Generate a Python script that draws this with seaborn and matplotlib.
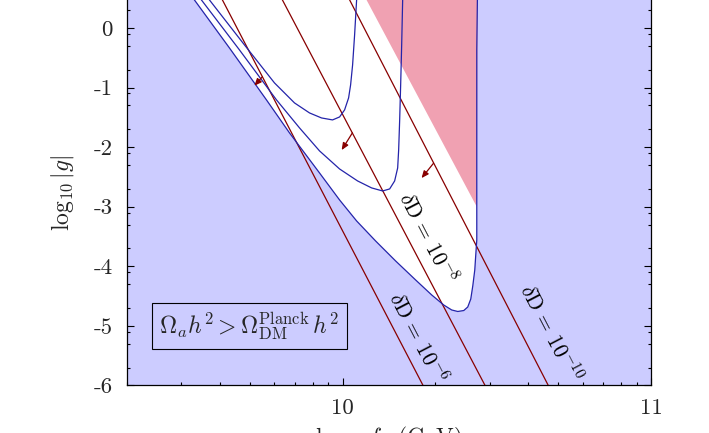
import numpy as np
import matplotlib
matplotlib.use('Agg')
import matplotlib.pyplot as plt
import seaborn as sns
from matplotlib.ticker import FixedLocator, FixedFormatter, NullFormatter, LogLocator

# ---- data (x given as log10 of the scale in GeV, y = log10|g|) ----
# outer boundary of the allowed (white) region
curveA_lx = [9.4481, 9.5195, 9.6331, 9.7532, 9.8279, 9.9253, 9.9903, 10.0455, 10.1071, 10.1721,
             10.2370, 10.2890, 10.3279, 10.3539, 10.3734, 10.3929, 10.4058, 10.4156, 10.4221,
             10.4286, 10.4318, 10.4351, 10.4351, 10.4351, 10.4383]
curveA_y = [0.973, 0.470, -0.336, -1.208, -1.762, -2.434, -2.887, -3.239, -3.575, -3.911,
            -4.230, -4.481, -4.649, -4.733, -4.758, -4.742, -4.683, -4.549, -4.330,
            -4.062, -3.810, -3.558, -2.048, -0.369, 0.973]
# middle contour
curveB_lx = [9.4708, 9.5422, 9.6656, 9.7857, 9.8604, 9.9253, 9.9903, 10.0487, 10.0942, 10.1299,
             10.1526, 10.1688, 10.1786, 10.1818, 10.1851, 10.1883, 10.1916, 10.1948, 10.1981]
curveB_y = [0.973, 0.470, -0.369, -1.208, -1.678, -2.064, -2.367, -2.568, -2.685, -2.736,
            -2.702, -2.568, -2.350, -2.048, -1.544, -0.957, -0.285, 0.470, 0.973]
# inner contour
curveC_lx = [9.4968, 9.5682, 9.6818, 9.7792, 9.8442, 9.8929, 9.9318, 9.9675, 9.9903, 10.0065,
             10.0195, 10.0260, 10.0325, 10.0390, 10.0455, 10.0487]
curveC_y = [0.973, 0.470, -0.285, -0.923, -1.259, -1.427, -1.511, -1.544, -1.494, -1.376,
            -1.175, -0.957, -0.621, -0.117, 0.470, 0.973]
# pink region (triangle)
pink_lx = [10.023, 10.435, 10.439]
pink_y = [1.0, -3.0, 1.0]
# deuterium lines  delta D = 1e-6, 1e-8, 1e-10 : log10 x at y=1 and y=-6
dD_labels = [r'$\delta\mathrm{D}\,=\,10^{-6}$', r'$\delta\mathrm{D}\,=\,10^{-8}$', r'$\delta\mathrm{D}\,=\,10^{-10}$']
dD_lx_top = [9.557, 9.751, 9.970]
dD_lx_bot = [10.261, 10.462, 10.667]
dD_y_ends = [1.0, -6.0]
# arrows on the lines (start, end)
arrow_lx0 = [9.740, 10.032, 10.295]
arrow_y0 = [-0.82, -1.76, -2.27]
arrow_lx1 = [9.714, 9.997, 10.256]
arrow_y1 = [-0.97, -2.05, -2.52]
# label positions
dD_text_lx = [10.244, 10.276, 10.675]
dD_text_y = [-5.20, -3.52, -5.12]

xticks_lx = [10, 11]
xtick_labels = ['10', '11']
yticks = [-6, -5, -4, -3, -2, -1, 0]
ytick_labels = ['-6', '-5', '-4', '-3', '-2', '-1', '0']

BLUE_FILL = '#CCCCFF'
PINK = '#F0A1B2'
LINE_BLUE = '#2424AA'
LINE_RED = '#880000'

sns.set_theme(style='ticks')
plt.rcParams['font.family'] = ['cmr10', 'DejaVu Serif']
plt.rcParams['mathtext.fontset'] = 'cm'
plt.rcParams['axes.formatter.use_mathtext'] = True
plt.rcParams['axes.unicode_minus'] = False

fig = plt.figure(figsize=(7.09, 4.33), dpi=100)
ax = fig.add_axes([0.17913, 0.1097, 0.73907, 0.96351])
ax.set_xscale('log')
ax.set_xlim(2e9, 1e11)
ax.set_ylim(-6, 1)
ax.set_facecolor(BLUE_FILL)

def X(lx):
    return 10 ** np.asarray(lx, dtype=float)

# white allowed region
ax.fill(X(curveA_lx), curveA_y, color='white', zorder=1, lw=0)
# pink region
ax.fill(X(pink_lx), pink_y, color=PINK, zorder=1.5, lw=0)

# red deuterium lines
for i in range(3):
    sns.lineplot(x=X([dD_lx_top[i], dD_lx_bot[i]]), y=dD_y_ends, ax=ax, color=LINE_RED,
                 lw=0.9, sort=False, estimator=None, zorder=3)
    ax.annotate('', xy=(X(arrow_lx1[i]), arrow_y1[i]), xytext=(X(arrow_lx0[i]), arrow_y0[i]),
                arrowprops=dict(arrowstyle='-|>,head_length=0.35,head_width=0.15', color=LINE_RED,
                                lw=0.9, shrinkA=0, shrinkB=0), zorder=4)
    ax.text(X(dD_text_lx[i]), dD_text_y[i], dD_labels[i], rotation=-62.5, rotation_mode='anchor',
            ha='center', va='center', fontsize=15.5, color='black', zorder=5)

# blue contours
for lx, yy in [(curveA_lx, curveA_y), (curveB_lx, curveB_y), (curveC_lx, curveC_y)]:
    sns.lineplot(x=X(lx), y=yy, ax=ax, color=LINE_BLUE, lw=0.9, sort=False, estimator=None, zorder=3)

# box label
ax.text(X(9.698), -5.0, r'$\Omega_a h^2 > \Omega_{\mathrm{DM}}^{\mathrm{Planck}}\, h^2$', fontsize=17,
        ha='center', va='center', zorder=6,
        bbox=dict(boxstyle='square,pad=0.3', fc='none', ec='black', lw=0.8))

# ticks
ax.xaxis.set_major_locator(FixedLocator(X(xticks_lx)))
ax.xaxis.set_major_formatter(FixedFormatter(xtick_labels))
ax.xaxis.set_minor_locator(LogLocator(base=10, subs=np.arange(2, 10), numticks=20))
ax.xaxis.set_minor_formatter(NullFormatter())
ax.yaxis.set_major_locator(FixedLocator(yticks))
ax.yaxis.set_major_formatter(FixedFormatter(ytick_labels))
yminor = [k - d for k in range(-5, 2) for d in (0.1, 0.3, 0.7)]
ax.yaxis.set_minor_locator(FixedLocator(yminor))
ax.tick_params(which='both', direction='in', top=True, right=True, color='black', width=0.8)
ax.tick_params(which='major', length=5, labelsize=16.5)
ax.tick_params(which='minor', length=2.5)
ax.tick_params(axis='x', which='major', pad=9)
ax.tick_params(axis='y', which='major', pad=10.5)
for s in ax.spines.values():
    s.set_color('black')
    s.set_linewidth(0.9)

ax.set_ylabel(r'$\log_{10}|g|$', fontsize=17, va='center')
ax.yaxis.set_label_coords(-0.124, 0.461)
ax.set_xlabel(r'$\log_{10} f_a$ (GeV)', fontsize=17)
ax.xaxis.set_label_coords(0.5, -0.094)

fig.savefig('out.png', dpi=100)
